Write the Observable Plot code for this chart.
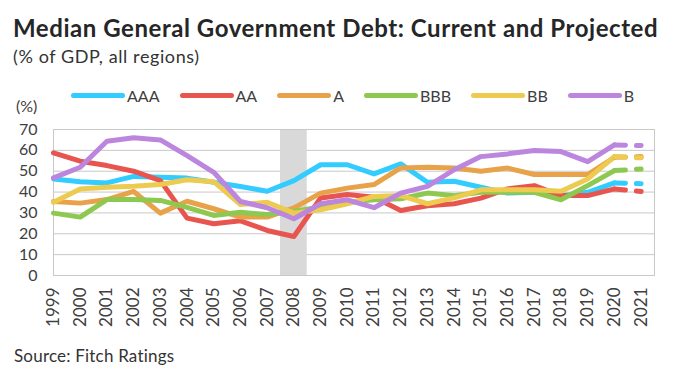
<!DOCTYPE html>
<html>
<head>
<meta charset="utf-8">
<script src="https://cdn.jsdelivr.net/npm/d3@7"></script>
<script src="https://cdn.jsdelivr.net/npm/@observablehq/plot@0.6"></script>
<style>
  body { margin: 0; background: #fff; font-family: Lato, "Open Sans", sans-serif; }
  #wrap { position: relative; width: 680px; height: 378px; overflow: hidden; background: #fff; }
  .t { position: absolute; white-space: nowrap; line-height: 1; }
  #title { left: 13px; top: 16px; font-size: 24px; letter-spacing: 0.55px; font-weight: 700; color: #262626; }
  #subtitle { left: 13px; top: 47px; font-size: 18px; letter-spacing: 0.6px; color: #333; }
  #unit { left: 16px; top: 98px; font-size: 16px; color: #404040; }
  #legend { position: absolute; left: 71px; top: 87px; height: 16px; display: flex; align-items: center; font-size: 16px; color: #404040; }
  .item { display: flex; align-items: center; margin-right: 20px; }
  .sw { width: 54px; height: 5px; border-radius: 3px; margin-right: 2px; }
  #chart { position: absolute; left: 0; top: 110px; }
  #source { left: 14px; top: 347px; font-size: 17px; letter-spacing: 0.2px; color: #333; }
</style>
</head>
<body>
<div id="wrap">
  <div id="title" class="t">Median General Government Debt: Current and Projected</div>
  <div id="subtitle" class="t">(% of GDP, all regions)</div>
  <div id="unit" class="t">(%)</div>
  <div id="legend"></div>
  <div id="chart"></div>
  <div id="source" class="t">Source: Fitch Ratings</div>
</div>
<script>
// ---- data ----
const years = [1999, 2000, 2001, 2002, 2003, 2004, 2005, 2006, 2007, 2008, 2009, 2010,
               2011, 2012, 2013, 2014, 2015, 2016, 2017, 2018, 2019, 2020, 2021];
const seriesNames = ["AAA", "AA", "A", "BBB", "BB", "B"];
const seriesColors = ["#33CCFF", "#E8554F", "#E8A24A", "#8DC850", "#ECCB50", "#BC86DE"];
const aaa = [46.3, 45.0, 44.4, 47.5, 47.1, 46.7, 44.7, 42.7, 40.4, 45.5, 53.1, 53.1, 48.7, 53.5, 44.7, 45.2, 42.3, 39.5, 39.9, 38.3, 39.9, 44.4, 44.0];
const aa  = [58.8, 54.8, 52.7, 50.0, 45.5, 27.5, 24.8, 26.2, 21.6, 18.7, 37.2, 38.8, 37.5, 31.2, 33.4, 34.4, 37.1, 41.5, 43.1, 38.3, 38.3, 41.5, 40.3];
const a   = [35.5, 34.7, 36.4, 40.3, 29.9, 35.6, 32.0, 28.0, 28.0, 32.4, 39.5, 41.9, 43.6, 51.6, 51.9, 51.5, 50.0, 51.5, 48.4, 48.4, 48.4, 56.7, 57.0];
const bbb = [29.9, 28.0, 36.4, 36.4, 36.0, 32.7, 28.8, 30.3, 29.2, 30.8, 32.7, 35.1, 36.3, 36.8, 39.5, 38.3, 39.9, 39.9, 39.9, 36.3, 43.1, 50.3, 51.1];
const bb  = [35.1, 41.5, 42.3, 42.8, 43.6, 45.9, 45.0, 34.0, 35.1, 29.9, 31.5, 34.4, 37.9, 38.3, 34.4, 37.2, 41.1, 41.1, 41.1, 40.4, 46.3, 57.0, 56.4];
const b   = [46.8, 51.9, 64.4, 66.0, 65.0, 57.5, 49.5, 35.5, 32.5, 27.2, 34.4, 36.3, 32.5, 39.5, 42.7, 50.7, 57.0, 58.3, 59.9, 59.4, 54.6, 62.6, 62.3];
const yTicks = [0, 10, 20, 30, 40, 50, 60, 70];
const shadedYears = [2008];
const projectionStart = 2020;

// ---- build table ----
const seriesValues = [aaa, aa, a, bbb, bb, b];
const rows = seriesNames.flatMap((s, i) => years.map((yr, j) => ({series: s, year: yr, value: seriesValues[i][j]})));

// ---- legend ----
const legend = document.getElementById("legend");
seriesNames.forEach((s, i) => {
  const it = document.createElement("div"); it.className = "item";
  const sw = document.createElement("span"); sw.className = "sw"; sw.style.background = seriesColors[i];
  const tx = document.createElement("span"); tx.textContent = s;
  it.appendChild(sw); it.appendChild(tx); legend.appendChild(it);
});

const yMin = yTicks[0], yMax = yTicks[yTicks.length - 1];
const lineOpts = {x: "year", y: "value", stroke: "series", z: "series", strokeWidth: 5,
                  strokeLinejoin: "round", strokeLinecap: "round"};

const chart = Plot.plot({
  width: 680, height: 225,
  marginLeft: 53, marginRight: 26, marginTop: 19, marginBottom: 60,
  style: {fontFamily: "Lato, sans-serif", fontSize: "16px", color: "#404040", background: "transparent", overflow: "visible"},
  x: {type: "linear", domain: [years[0], years[years.length - 1] + 0.5]},
  y: {domain: [yMin, yMax]},
  color: {domain: seriesNames, range: seriesColors},
  marks: [
    Plot.gridY(yTicks, {stroke: "#C8C8C8", strokeOpacity: 1}),
    Plot.rect(shadedYears, {x1: d => d - 0.5, x2: d => d + 0.5, y1: () => yMin, y2: () => yMax, fill: "#D9D9D9"}),
    Plot.frame({stroke: "#C8C8C8"}),
    Plot.axisY(yTicks, {tickSize: 0, tickPadding: 16, label: null, fontSize: 16}),
    Plot.axisX(years, {tickSize: 0, tickPadding: 12, tickRotate: -90, tickFormat: d => String(d), label: null, fontSize: 17}),
    Plot.line(rows.filter(d => d.year <= projectionStart), lineOpts),
    Plot.line(rows.filter(d => d.year >= projectionStart), {...lineOpts, strokeDasharray: "11,11"})
  ]
});
document.getElementById("chart").appendChild(chart);
</script>
</body>
</html>
